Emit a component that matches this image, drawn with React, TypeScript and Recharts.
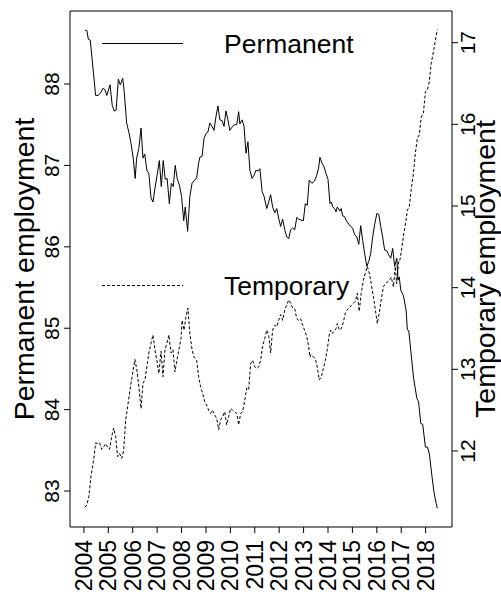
import { LineChart, Line, XAxis, YAxis, ReferenceArea } from 'recharts';

const yearTicks = [2004, 2005, 2006, 2007, 2008, 2009, 2010, 2011, 2012, 2013, 2014, 2015, 2016, 2017, 2018];
const permanentTicks = [83, 84, 85, 86, 87, 88];
const temporaryTicks = [12, 13, 14, 15, 16, 17];
const seriesNames = ['Permanent', 'Temporary'];
const axisTitles = ['Permanent employment', 'Temporary employment'];

// [decimal year, share of employees in %]
const permanentPoints: [number, number][] = [
  [2004.04, 88.66], [2004.12, 88.66], [2004.18, 88.55], [2004.26, 88.54], [2004.48, 87.86], [2004.59, 87.86],
  [2004.7, 87.9], [2004.79, 87.95], [2004.86, 87.93], [2004.94, 87.86], [2005.07, 87.99], [2005.16, 87.74],
  [2005.24, 87.67], [2005.32, 87.68], [2005.41, 88.06], [2005.49, 87.99], [2005.59, 88.07], [2005.65, 87.91],
  [2005.75, 87.52], [2005.84, 87.41], [2005.93, 87.27], [2006.02, 87.09], [2006.1, 86.84], [2006.16, 87.09],
  [2006.25, 87.21], [2006.34, 87.46], [2006.42, 87.09], [2006.49, 87.14], [2006.58, 86.94], [2006.66, 86.9],
  [2006.75, 86.6], [2006.83, 86.55], [2006.91, 86.72], [2007.02, 86.92], [2007.09, 87.06], [2007.17, 86.74],
  [2007.25, 87.06], [2007.33, 86.83], [2007.41, 86.84], [2007.5, 86.53], [2007.58, 86.78], [2007.66, 86.74],
  [2007.74, 87.0], [2007.82, 86.84], [2007.91, 86.76], [2008.0, 86.62], [2008.09, 86.32], [2008.15, 86.49],
  [2008.25, 86.19], [2008.34, 86.62], [2008.43, 86.78], [2008.54, 86.82], [2008.62, 86.85], [2008.7, 87.03],
  [2008.75, 87.1], [2008.84, 87.11], [2008.92, 87.33], [2009.0, 87.39], [2009.08, 87.41], [2009.16, 87.52],
  [2009.25, 87.48], [2009.33, 87.43], [2009.41, 87.6], [2009.49, 87.73], [2009.57, 87.56], [2009.66, 87.55],
  [2009.74, 87.48], [2009.82, 87.67], [2009.9, 87.56], [2009.98, 87.43], [2010.09, 87.48], [2010.18, 87.5],
  [2010.26, 87.5], [2010.34, 87.66], [2010.39, 87.51], [2010.48, 87.56], [2010.56, 87.48], [2010.64, 87.15],
  [2010.72, 87.29], [2010.8, 86.94], [2010.89, 86.84], [2010.97, 86.88], [2011.05, 86.94], [2011.13, 86.93],
  [2011.21, 86.96], [2011.3, 86.68], [2011.38, 86.62], [2011.49, 86.47], [2011.57, 86.55], [2011.65, 86.64],
  [2011.73, 86.49], [2011.82, 86.42], [2011.9, 86.47], [2011.98, 86.35], [2012.06, 86.25], [2012.14, 86.34],
  [2012.23, 86.21], [2012.31, 86.12], [2012.39, 86.1], [2012.47, 86.21], [2012.55, 86.23], [2012.64, 86.21],
  [2012.72, 86.36], [2012.8, 86.34], [2012.88, 86.33], [2012.99, 86.32], [2013.07, 86.53], [2013.15, 86.51],
  [2013.23, 86.82], [2013.34, 86.78], [2013.45, 86.81], [2013.54, 86.88], [2013.62, 86.98], [2013.67, 87.1],
  [2013.75, 87.03], [2013.84, 86.98], [2013.92, 86.9], [2014.0, 86.83], [2014.08, 86.53], [2014.14, 86.55],
  [2014.19, 86.49], [2014.27, 86.47], [2014.33, 86.43], [2014.38, 86.49], [2014.44, 86.46], [2014.49, 86.44],
  [2014.54, 86.47], [2014.6, 86.38], [2014.68, 86.37], [2014.77, 86.31], [2014.85, 86.28], [2014.93, 86.25],
  [2015.01, 86.23], [2015.09, 86.15], [2015.18, 86.12], [2015.26, 86.03], [2015.34, 86.26], [2015.42, 86.08],
  [2015.5, 85.92], [2015.59, 85.76], [2015.67, 85.82], [2015.75, 85.92], [2015.83, 86.12], [2015.91, 86.27],
  [2016.0, 86.41], [2016.08, 86.4], [2016.16, 86.25], [2016.24, 86.12], [2016.32, 85.96], [2016.41, 85.95],
  [2016.49, 85.9], [2016.57, 85.86], [2016.65, 85.98], [2016.73, 85.76], [2016.82, 85.86], [2016.87, 85.59],
  [2016.92, 85.63], [2016.98, 85.47], [2017.09, 85.4], [2017.2, 85.22], [2017.25, 84.98], [2017.31, 84.97],
  [2017.5, 84.4], [2017.64, 84.14], [2017.71, 84.1], [2017.8, 83.83], [2017.88, 83.82], [2017.99, 83.54],
  [2018.07, 83.54], [2018.15, 83.46], [2018.26, 83.18], [2018.34, 82.99], [2018.43, 82.85], [2018.48, 82.79],
];

const temporaryPoints: [number, number][] = [
  [2004.04, 11.31], [2004.12, 11.34], [2004.2, 11.44], [2004.29, 11.69], [2004.4, 11.89], [2004.48, 12.1],
  [2004.56, 12.09], [2004.64, 12.1], [2004.73, 12.02], [2004.81, 12.05], [2004.89, 12.09], [2004.97, 12.05],
  [2005.05, 12.02], [2005.14, 12.18], [2005.22, 12.28], [2005.3, 12.18], [2005.38, 11.93], [2005.46, 11.97],
  [2005.55, 11.91], [2005.63, 12.01], [2005.71, 12.38], [2005.79, 12.54], [2005.87, 12.71], [2005.95, 12.87],
  [2006.04, 13.03], [2006.09, 13.12], [2006.17, 12.99], [2006.25, 12.79], [2006.34, 12.52], [2006.42, 12.83],
  [2006.5, 12.87], [2006.58, 13.03], [2006.66, 13.2], [2006.75, 13.32], [2006.83, 13.42], [2006.91, 13.24],
  [2006.99, 13.11], [2007.07, 12.95], [2007.16, 13.22], [2007.24, 12.91], [2007.32, 13.24], [2007.4, 13.32],
  [2007.48, 13.42], [2007.57, 13.2], [2007.65, 13.24], [2007.73, 12.97], [2007.81, 13.11], [2007.89, 13.24],
  [2007.98, 13.38], [2008.02, 13.6], [2008.1, 13.48], [2008.18, 13.64], [2008.26, 13.75], [2008.34, 13.44],
  [2008.43, 13.24], [2008.51, 13.15], [2008.62, 13.11], [2008.7, 12.91], [2008.78, 12.79], [2008.86, 12.71],
  [2008.95, 12.6], [2009.03, 12.56], [2009.11, 12.5], [2009.19, 12.46], [2009.27, 12.5], [2009.36, 12.44],
  [2009.44, 12.4], [2009.52, 12.26], [2009.6, 12.38], [2009.68, 12.42], [2009.77, 12.48], [2009.85, 12.32],
  [2009.93, 12.42], [2010.01, 12.52], [2010.09, 12.5], [2010.18, 12.48], [2010.26, 12.46], [2010.34, 12.32],
  [2010.42, 12.46], [2010.5, 12.48], [2010.59, 12.62], [2010.67, 12.77], [2010.75, 12.75], [2010.83, 13.07],
  [2010.91, 13.11], [2011.0, 13.03], [2011.08, 13.01], [2011.16, 13.03], [2011.24, 13.11], [2011.32, 13.28],
  [2011.41, 13.38], [2011.49, 13.48], [2011.57, 13.42], [2011.65, 13.2], [2011.73, 13.48], [2011.82, 13.54],
  [2011.9, 13.52], [2011.98, 13.6], [2012.06, 13.67], [2012.14, 13.6], [2012.23, 13.73], [2012.31, 13.79],
  [2012.39, 13.85], [2012.47, 13.81], [2012.55, 13.75], [2012.64, 13.74], [2012.72, 13.62], [2012.8, 13.6],
  [2012.88, 13.62], [2012.96, 13.54], [2013.04, 13.48], [2013.13, 13.4], [2013.21, 13.28], [2013.26, 13.15],
  [2013.3, 13.18], [2013.4, 13.15], [2013.48, 13.13], [2013.56, 13.03], [2013.64, 12.87], [2013.73, 12.91],
  [2013.81, 13.01], [2013.89, 13.11], [2013.97, 13.24], [2014.05, 13.42], [2014.11, 13.48], [2014.16, 13.44],
  [2014.25, 13.46], [2014.33, 13.5], [2014.38, 13.56], [2014.46, 13.48], [2014.55, 13.5], [2014.63, 13.58],
  [2014.71, 13.69], [2014.79, 13.73], [2014.87, 13.75], [2014.95, 13.78], [2015.04, 13.81], [2015.12, 13.83],
  [2015.2, 13.93], [2015.28, 13.71], [2015.36, 13.93], [2015.45, 14.09], [2015.53, 14.18], [2015.61, 14.26],
  [2015.69, 14.18], [2015.77, 14.05], [2015.86, 13.89], [2015.94, 13.73], [2016.02, 13.56], [2016.1, 13.69],
  [2016.18, 13.85], [2016.27, 14.01], [2016.35, 14.05], [2016.43, 14.07], [2016.51, 14.09], [2016.59, 14.13],
  [2016.68, 14.01], [2016.76, 14.26], [2016.81, 14.05], [2016.9, 14.34], [2016.95, 14.34], [2017.03, 14.5],
  [2017.11, 14.67], [2017.2, 14.83], [2017.25, 14.95], [2017.33, 14.99], [2017.41, 15.2], [2017.5, 15.4],
  [2017.58, 15.65], [2017.66, 15.83], [2017.74, 15.87], [2017.82, 16.09], [2017.91, 16.14], [2017.99, 16.4],
  [2018.07, 16.42], [2018.15, 16.52], [2018.23, 16.75], [2018.32, 16.89], [2018.4, 17.03], [2018.48, 17.16],
];

const permanentData = permanentPoints.map(([t, v]) => ({ t, v }));
const temporaryData = temporaryPoints.map(([t, v]) => ({ t, v }));

const xDomain: [number, number] = [2003.43, 2019.08];
const leftDomain: [number, number] = [82.558, 88.897];
const rightDomain: [number, number] = [11.069, 17.388];

const FONT = '"Liberation Sans", Arial, Helvetica, sans-serif';
const DASH = '3 2';

function YearTick(props: any) {
  const { x, y, payload } = props;
  return (
    <text x={x} y={y} dy={8} transform={`rotate(-90, ${x}, ${y})`} textAnchor="end"
      fontSize={23} fontFamily={FONT} fill="#000">
      {payload.value}
    </text>
  );
}

function LeftTick(props: any) {
  const { x, y, payload } = props;
  return (
    <text x={x} y={y} transform={`rotate(-90, ${x}, ${y})`} textAnchor="middle"
      fontSize={21} fontFamily={FONT} fill="#000">
      {payload.value}
    </text>
  );
}

function RightTick(props: any) {
  const { x, y, payload } = props;
  return (
    <text x={x} y={y} dy="0.68em" transform={`rotate(-90, ${x}, ${y})`} textAnchor="middle"
      fontSize={21} fontFamily={FONT} fill="#000">
      {payload.value}
    </text>
  );
}

function AxisTitle(props: any) {
  const { viewBox, text, offsetX } = props;
  const cx = viewBox.x + offsetX;
  const cy = viewBox.y + viewBox.height / 2;
  return (
    <text x={cx} y={cy} transform={`rotate(-90, ${cx}, ${cy})`} textAnchor="middle"
      fontSize={28.5} fontFamily={FONT} fill="#000">
      {text}
    </text>
  );
}

function LegendOverlay() {
  const rows = [
    { name: seriesNames[0], y: 43.5, dash: undefined },
    { name: seriesNames[1], y: 285.5, dash: DASH },
  ];
  return (
    <svg width={501} height={595} style={{ position: 'absolute', left: 0, top: 0, pointerEvents: 'none' }}>
      {rows.map((r) => (
        <g key={r.name}>
          <line x1={102} x2={183} y1={r.y} y2={r.y} stroke="#000" strokeWidth={1} strokeDasharray={r.dash} />
          <text x={224} y={r.y + 9.5} fontSize={26.5} fontFamily={FONT} fill="#000">{r.name}</text>
        </g>
      ))}
    </svg>
  );
}

export default function App() {
  return (
    <div style={{ position: 'absolute', left: 0, top: 0, width: 501, height: 595, background: '#fff' }}>
      <LineChart width={501} height={595} margin={{ top: 11, right: 0, bottom: 0, left: 0 }}>
        <XAxis type="number" dataKey="t" domain={xDomain} ticks={yearTicks} allowDataOverflow
          height={68} axisLine={false} tickLine={{ stroke: '#000' }} tickSize={6} tickMargin={7}
          tick={<YearTick />} interval={0} />
        <YAxis yAxisId="left" type="number" domain={leftDomain} ticks={permanentTicks} allowDataOverflow
          width={70} axisLine={false} tickLine={{ stroke: '#000' }} tickSize={6} tickMargin={5}
          tick={<LeftTick />} interval={0}
          label={<AxisTitle text={axisTitles[0]} offsetX={34} />} />
        <YAxis yAxisId="right" orientation="right" type="number" domain={rightDomain} ticks={temporaryTicks}
          allowDataOverflow width={49} axisLine={false} tickLine={{ stroke: '#000' }} tickSize={6} tickMargin={3}
          tick={<RightTick />} interval={0}
          label={<AxisTitle text={axisTitles[1]} offsetX={42.5} />} />
        <ReferenceArea yAxisId="left" x1={xDomain[0]} x2={xDomain[1]} y1={leftDomain[0]} y2={leftDomain[1]}
          fill="none" fillOpacity={0} stroke="#000" strokeWidth={1} ifOverflow="visible" />
        <Line yAxisId="left" data={permanentData} dataKey="v" name={seriesNames[0]} type="linear"
          stroke="#000" strokeWidth={1} dot={false} activeDot={false} isAnimationActive={false} />
        <Line yAxisId="right" data={temporaryData} dataKey="v" name={seriesNames[1]} type="linear"
          stroke="#000" strokeWidth={1} strokeDasharray={DASH} dot={false} activeDot={false}
          isAnimationActive={false} />
      </LineChart>
      <LegendOverlay />
    </div>
  );
}
